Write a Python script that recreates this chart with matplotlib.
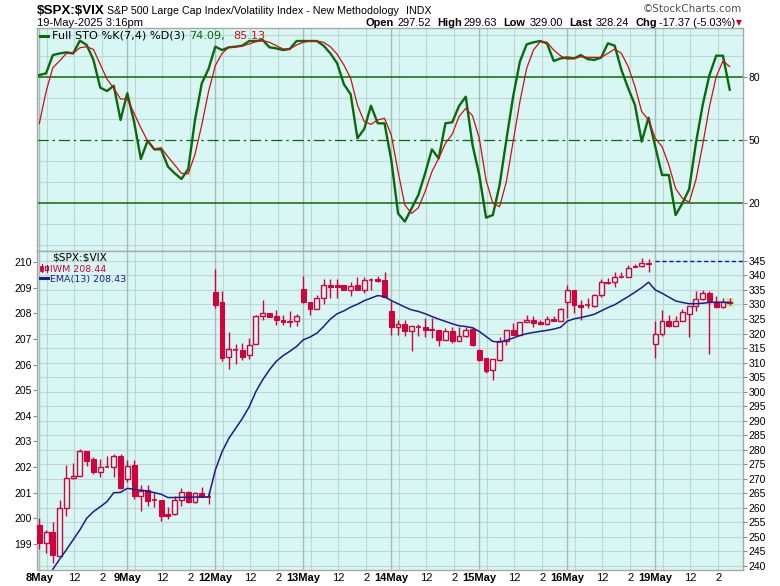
import numpy as np
import matplotlib.pyplot as plt
from matplotlib.lines import Line2D
from matplotlib.patches import Rectangle

plt.rcParams['font.family'] = ['Liberation Sans', 'DejaVu Sans']

W, H = 780, 586
BG = '#d8f7f4'
RED = '#d0043c'
NAVY = '#1c1c8c'
GREEN = '#0a6a0a'
DRED = '#cc1010'
GRID_DAY = '#a9bcb9'
GRID = '#bfd6d2'

days = ['8May', '9May', '12May', '13May', '14May', '15May', '16May', '19May']
bars_per_day = 13

# 30 minute candles, $SPX:$VIX
opens = [199.74, 199.05, 199.45, 198.51, 200.39, 201.56, 201.66, 202.64, 202.31, 201.79, 201.99, 201.99, 202.45,
         201.52, 202.08, 200.87, 201.10, 200.71, 200.71, 200.17, 200.16, 200.71, 201.01, 200.65, 200.97, 200.84,
         208.85, 208.46, 206.30, 206.59, 206.59, 206.37, 206.82, 207.91, 208.01, 207.90, 207.75, 207.71, 207.69,
         208.95, 208.44, 208.17, 208.59, 209.12, 209.12, 209.12, 208.90, 209.12, 208.90, 209.31, 209.34, 209.31,
         208.08, 207.47, 207.60, 207.30, 207.49, 207.49, 207.38, 207.36, 206.97, 207.32, 206.91, 207.13, 207.39,
         206.58, 206.26, 205.78, 206.19, 206.93, 207.36, 207.14, 207.66, 207.74, 207.66, 207.57, 207.78, 207.69,
         208.43, 208.90, 208.34, 208.34, 208.31, 208.73, 209.22, 209.21, 209.44, 209.41, 209.86, 209.86, 209.96,
         206.80, 207.19, 207.69, 207.53, 207.69, 207.97, 208.29, 208.56, 208.79, 208.44, 208.27, 208.42]
highs = [200.00, 199.55, 199.84, 200.71, 202.08, 202.14, 202.69, 202.64, 202.38, 202.31, 202.43, 202.51, 202.53,
         202.27, 202.27, 201.30, 201.30, 200.97, 200.71, 200.45, 200.87, 201.19, 201.06, 201.04, 201.23, 201.06,
         209.74, 208.89, 207.28, 206.82, 206.86, 207.06, 207.94, 208.53, 208.03, 208.14, 207.94, 208.10, 207.97,
         209.47, 208.44, 208.73, 209.34, 209.34, 209.34, 209.12, 209.21, 209.41, 209.44, 209.38, 209.47, 209.61,
         208.47, 207.75, 207.75, 207.52, 207.60, 207.84, 207.84, 207.36, 207.43, 207.49, 207.47, 207.47, 207.47,
         206.60, 206.26, 206.22, 207.07, 207.36, 207.62, 207.66, 207.95, 207.91, 207.75, 207.91, 207.91, 208.23,
         209.12, 208.92, 208.53, 208.60, 208.75, 209.34, 209.38, 209.63, 209.63, 209.90, 209.93, 210.15, 210.12,
         207.69, 208.14, 207.95, 207.91, 208.17, 208.30, 208.88, 208.92, 208.88, 208.68, 208.62, 208.60]
lows = [198.79, 198.64, 198.25, 198.51, 200.10, 201.52, 201.66, 202.04, 201.73, 201.60, 201.99, 201.62, 201.13,
        201.43, 200.74, 200.30, 200.49, 200.45, 199.91, 199.96, 200.13, 200.49, 200.58, 200.61, 200.82, 200.56,
        208.22, 206.14, 205.83, 206.04, 206.17, 206.24, 206.82, 207.75, 207.86, 207.56, 207.56, 207.49, 207.52,
        208.40, 207.95, 208.17, 208.38, 208.59, 208.59, 208.90, 208.69, 208.90, 208.79, 208.92, 209.21, 208.62,
        207.14, 207.14, 207.13, 206.52, 207.13, 207.08, 207.04, 206.71, 206.97, 206.84, 206.91, 207.08, 206.71,
        206.15, 205.68, 205.39, 206.13, 206.78, 207.14, 207.14, 207.66, 207.46, 207.56, 207.56, 207.69, 207.69,
        207.82, 208.01, 207.75, 208.21, 208.27, 208.66, 209.14, 209.05, 209.38, 209.41, 209.80, 209.80, 209.63,
        206.26, 207.13, 207.49, 207.53, 207.69, 207.10, 208.08, 208.53, 206.41, 208.21, 208.21, 208.34]
closes = [199.05, 199.45, 198.55, 200.39, 201.56, 201.66, 202.64, 202.25, 201.82, 201.99, 201.99, 202.45, 201.19,
          202.05, 200.87, 201.08, 200.69, 200.71, 200.10, 200.10, 200.71, 201.04, 200.65, 200.97, 200.82, 200.84,
          208.33, 206.27, 206.60, 206.59, 206.30, 206.78, 207.90, 208.01, 207.88, 207.73, 207.65, 207.65, 207.91,
          208.43, 208.17, 208.59, 209.10, 209.03, 209.05, 208.90, 209.08, 208.90, 209.30, 209.31, 209.28, 208.66,
          207.47, 207.60, 207.30, 207.52, 207.49, 207.36, 207.34, 206.97, 207.32, 206.91, 207.13, 207.36, 206.78,
          206.19, 205.77, 206.22, 206.91, 207.36, 207.14, 207.66, 207.74, 207.62, 207.60, 207.78, 207.69, 208.17,
          208.92, 208.34, 208.27, 208.34, 208.73, 209.21, 209.18, 209.41, 209.44, 209.76, 209.80, 209.96, 209.93,
          207.19, 207.69, 207.52, 207.69, 208.05, 208.30, 208.56, 208.79, 208.47, 208.27, 208.44, 208.44]
ema13 = [np.nan, np.nan, 198.01, 198.40, 198.77, 199.16, 199.55, 200.00, 200.26, 200.45, 200.65, 201.00, 201.01,
         201.17, 201.13, 201.10, 201.06, 201.00, 200.94, 200.81, 200.81, 200.82, 200.82, 200.83, 200.83, 200.83,
         201.88, 202.60, 203.12, 203.51, 203.90, 204.35, 204.95, 205.41, 205.80, 206.13, 206.35, 206.52, 206.71,
         206.97, 207.08, 207.23, 207.49, 207.78, 207.99, 208.10, 208.25, 208.36, 208.50, 208.60, 208.70, 208.66,
         208.50, 208.38, 208.25, 208.14, 208.08, 207.99, 207.88, 207.78, 207.69, 207.60, 207.52, 207.49, 207.44,
         207.30, 207.10, 206.91, 206.88, 206.95, 207.04, 207.14, 207.21, 207.26, 207.30, 207.34, 207.39, 207.46,
         207.70, 207.79, 207.84, 207.90, 207.97, 208.10, 208.23, 208.34, 208.50, 208.66, 208.83, 209.01, 209.22,
         208.92, 208.79, 208.64, 208.49, 208.43, 208.38, 208.38, 208.40, 208.43, 208.44, 208.44, 208.43]
sto_k = [81.1, 81.9, 90.6, 91.4, 91.9, 91.4, 97.5, 95.4, 88.3, 75.1, 73.5, 76.0, 59.7,
         72.4, 58.9, 41.1, 49.8, 45.7, 45.7, 37.5, 34.3, 31.6, 36.3, 59.7, 77.1, 84.0,
         94.6, 93.0, 94.3, 94.6, 95.1, 97.3, 97.3, 97.8, 94.3, 93.8, 93.0, 93.5, 97.3,
         97.3, 97.3, 97.3, 95.1, 91.4, 86.7, 76.7, 71.9, 51.0, 55.4, 66.5, 58.1, 58.1,
         40.6, 15.2, 11.3, 17.6, 24.0, 34.3, 45.7, 41.4, 58.1, 58.6, 66.3, 70.8, 47.8,
         33.5, 13.2, 14.4, 28.7, 50.2, 70.8, 87.5, 95.7, 96.7, 97.3, 96.2, 87.8, 89.0,
         89.5, 89.0, 90.6, 88.7, 88.3, 89.4, 96.2, 95.1, 83.5, 74.8, 66.8, 49.4, 60.8,
         47.0, 33.5, 33.5, 14.4, 20.0, 26.7, 48.6, 66.8, 81.1, 90.3, 90.3, 74.09]
sto_d = [58.0, 73.2, 84.6, 87.8, 91.4, 91.4, 94.1, 94.6, 93.3, 86.2, 79.2, 74.8, 69.7,
         69.7, 62.9, 56.0, 49.7, 45.9, 46.5, 42.2, 38.3, 34.3, 34.0, 43.3, 57.3, 73.2,
         85.6, 91.4, 94.3, 94.6, 94.9, 95.9, 97.0, 97.5, 96.7, 95.1, 93.5, 93.5, 95.4,
         96.7, 97.3, 97.3, 96.7, 94.6, 91.0, 85.9, 79.5, 66.8, 58.9, 57.6, 59.7, 60.5,
         52.5, 35.1, 19.2, 15.2, 17.9, 25.6, 35.1, 41.4, 48.6, 52.9, 61.3, 65.2, 61.7,
         51.0, 31.1, 20.0, 18.4, 30.3, 49.4, 68.4, 84.3, 93.0, 97.0, 96.7, 93.0, 90.3,
         88.6, 89.0, 89.8, 89.5, 89.5, 89.5, 91.4, 93.5, 91.4, 85.1, 75.6, 63.7, 59.7,
         51.0, 47.0, 38.3, 27.1, 22.4, 20.5, 31.1, 47.8, 66.0, 80.3, 87.8, 85.13]
marker_level_right = 345  # dashed blue level on the right scale

left_ticks = list(range(199, 211))
right_ticks = list(range(240, 350, 5))


def l2r(v):
    return 344.552 + (np.asarray(v) - 210) * 8.8215


def r2l(v):
    return 210 + (np.asarray(v) - 344.552) / 8.8215


def fx(px):
    return px / W


def fy(py):
    return 1 - py / H


n = len(closes)
x = np.arange(n)
day_pos = [bars_per_day * d for d in range(len(days))]
minor_pos = [bars_per_day * d + o for d in range(len(days)) for o in (1.2, 5.1, 9.2)]
xlim = (-0.34, 103.96)

fig = plt.figure(figsize=(W / 100, H / 100), dpi=100)
ax_sto = fig.add_axes([fx(37), fy(251), fx(743) - fx(37), fy(28) - fy(251)])
ax_px = fig.add_axes([fx(37), fy(570), fx(743) - fx(37), fy(251) - fy(570)])

for ax in (ax_sto, ax_px):
    ax.set_facecolor(BG)
    ax.set_xlim(*xlim)
    for s in ax.spines.values():
        s.set_color('#a8a8a8')
        s.set_linewidth(1)
    for p in day_pos:
        ax.axvline(p, color=GRID_DAY, lw=1, zorder=0.6)
    for p in minor_pos:
        ax.axvline(p, color=GRID, lw=0.8, zorder=0.5)

# ---- stochastic panel
ax_sto.set_ylim(-2.7, 103.5)
for lv in (0, 10, 30, 40, 60, 70, 90, 100):
    ax_sto.axhline(lv, color=GRID, lw=0.8, zorder=0.5)
ax_sto.axhline(80, color=GREEN, lw=1.1, zorder=1)
ax_sto.axhline(20, color=GREEN, lw=1.1, zorder=1)
ax_sto.axhline(50, color=GREEN, lw=0.9, dashes=(9, 3, 2, 3), zorder=1)
ax_sto.plot(x, sto_k, color=GREEN, lw=1.7, zorder=3)
ax_sto.plot(x, sto_d, color=DRED, lw=0.9, zorder=4)
ax_sto.set_xticks([])
ax_sto.yaxis.tick_right()
ax_sto.set_yticks([20, 50, 80])
ax_sto.tick_params(axis='y', length=3, width=0.8, color='#888888', pad=1, labelsize=7.5)

# ---- price panel
ax_px.set_ylim(197.98, 210.44)
for rv in right_ticks:
    ax_px.axhline(r2l(rv), color=GRID, lw=0.8, zorder=0.5)

bw = 0.72
last = n - 1
ax_px.add_patch(Rectangle((last - 0.6, 208.27), 1.2, 0.33, facecolor='#c4f0a4', edgecolor='none', zorder=1))
for i in range(n):
    o, h, l, c = opens[i], highs[i], lows[i], closes[i]
    ax_px.vlines(i, l, h, color=RED, lw=1.0, zorder=2)
    lo, hi = min(o, c), max(o, c)
    if hi - lo < 0.02:
        ax_px.hlines(c, i - bw / 2, i + bw / 2, color=RED, lw=1.2, zorder=3)
    elif c < o:
        ax_px.add_patch(Rectangle((i - bw / 2, lo), bw, hi - lo, facecolor=RED, edgecolor=RED, lw=0.8, zorder=3))
    else:
        ax_px.add_patch(Rectangle((i - bw / 2, lo), bw, hi - lo, facecolor=BG, edgecolor=RED, lw=1.0, zorder=3))

ax_px.plot(x, ema13, color=NAVY, lw=1.1, zorder=4)
ax_px.hlines(r2l(marker_level_right), day_pos[-1] - 0.1, xlim[1], color='#1010cc', lw=1.0,
             linestyles=(0, (3, 2)), zorder=4)

ax_px.set_yticks(left_ticks)
ax_px.tick_params(axis='y', length=3, width=0.8, color='#888888', pad=1, labelsize=7.5)
sec = ax_px.secondary_yaxis('right', functions=(l2r, r2l))
sec.set_yticks(right_ticks)
sec.spines['right'].set_color('#a8a8a8')
sec.tick_params(axis='y', length=3, width=0.8, color='#888888', pad=1, labelsize=7.5)

xt = []
xl = []
for d, p in enumerate(day_pos):
    xt += [p, p + 5.2, p + 9.3]
    xl += [days[d], '12', '2']
ax_px.set_xticks(xt)
ax_px.set_xticklabels(xl)
ax_px.tick_params(axis='x', length=0, pad=2, labelsize=8)
for t, lab in zip(ax_px.get_xticklabels(), xl):
    if lab in days:
        t.set_fontweight('bold')

# ---- header
fig.text(fx(37), fy(14.5), r'\$SPX:\$VIX', weight='bold', size=9.6, va='baseline')
fig.text(fx(107), fy(14.5), 'S&P 500 Large Cap Index/Volatility Index - New Methodology', size=7.7, va='baseline')
fig.text(fx(406), fy(14.5), 'INDX', size=7.7, va='baseline')
fig.text(fx(742), fy(12.5), '\u00a9StockCharts.com', size=7.5, va='baseline', ha='right',
         color='#505050', family=['DejaVu Sans'])
fig.text(fx(37), fy(26.5), '19-May-2025 3:16pm', size=8, va='baseline')
pieces = [(365, 'Open', True), (398, '297.52', False), (437, 'High', True), (463, '299.63', False),
          (503, 'Low', True), (530, '329.00', False), (569, 'Last', True), (596, '328.24', False),
          (635, 'Chg', True), (659, '-17.37 (-5.03%)', False)]
for px_, s, b in pieces:
    fig.text(fx(px_), fy(26.5), s, size=7.9, va='baseline', weight='bold' if b else 'normal')
fig.text(fx(739), fy(22.5), '\u25bc', size=5.5, ha='center', va='center', color='#c00030',
         family=['DejaVu Sans'])

# ---- panel legends
fig.add_artist(Line2D([fx(40), fx(48)], [fy(35.5), fy(35.5)], color=GREEN, lw=2.2))
fig.text(fx(52), fy(38.8), 'Full STO %K(7,4) %D(3)', size=8.1, va='baseline', family=['DejaVu Sans'])
fig.text(fx(189), fy(38.8), '74.09,', size=8.1, va='baseline', color=GREEN, family=['DejaVu Sans'])
fig.text(fx(233), fy(38.8), '85.13', size=8.1, va='baseline', color=DRED, family=['DejaVu Sans'])

fig.text(fx(52.5), fy(260.8), r'\$SPX:\$VIX', size=7.6, va='baseline', family=['DejaVu Sans'])
fig.add_artist(Line2D([fx(41.5), fx(41.5)], [fy(264), fy(272)], color=RED, lw=0.8))
fig.add_artist(Rectangle((fx(40), fy(271)), fx(3), fy(265.5) - fy(271), facecolor=RED, edgecolor=RED, lw=0.6))
fig.add_artist(Line2D([fx(46.5), fx(46.5)], [fy(264.5), fy(271.5)], color=RED, lw=0.8))
fig.add_artist(Rectangle((fx(45), fy(270)), fx(3), fy(266) - fy(270), facecolor=BG, edgecolor=RED, lw=0.8))
fig.text(fx(50), fy(271.5), 'IWM 208.44', size=6.8, va='baseline', color=RED, family=['DejaVu Sans'])
fig.add_artist(Line2D([fx(40), fx(48)], [fy(278.3), fy(278.3)], color=NAVY, lw=2.2))
fig.text(fx(49.5), fy(281.8), 'EMA(13) 208.43', size=6.8, va='baseline', color=NAVY, family=['DejaVu Sans'])

fig.savefig('out.png', dpi=100, facecolor='white')
